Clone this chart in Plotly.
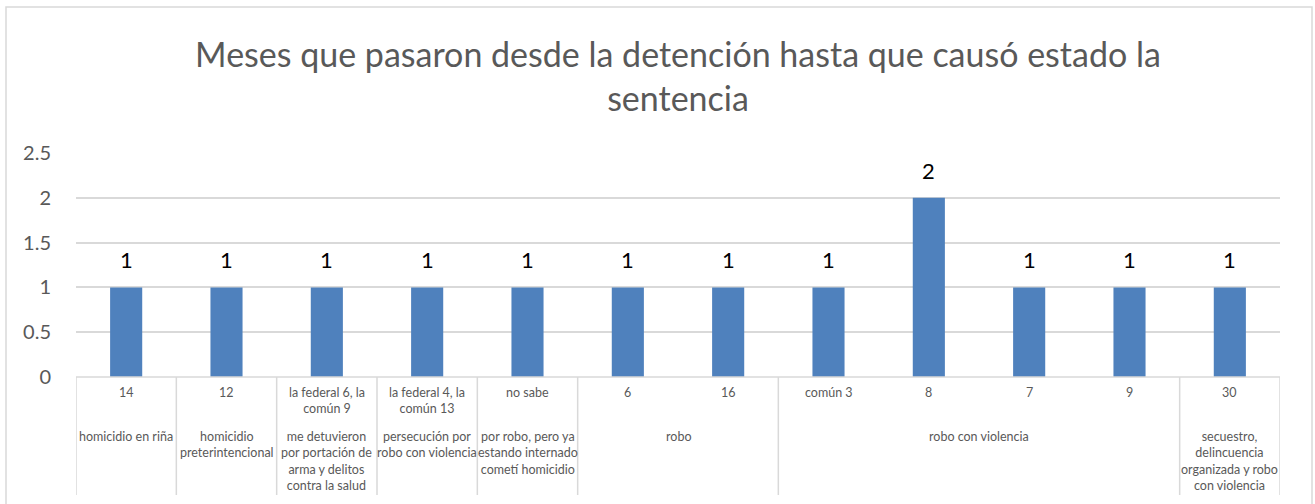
import plotly.graph_objects as go

title_text = "Meses que pasaron desde la detención hasta que causó estado la<br>sentencia"

# inner category labels (months)
months = ["14", "12", "la federal 6, la\ncomún 9", "la federal 4, la\ncomún 13", "no sabe",
          "6", "16", "común 3", "8", "7", "9", "30"]
# outer group labels and the number of categories each group spans
groups = ["homicidio en riña", "homicidio\npreterintencional",
          "me detuvieron\npor portación de\narma y delitos\ncontra la salud",
          "persecución por\nrobo con violencia",
          "por robo, pero ya\nestando internado\ncometí homicidio",
          "robo", "robo con violencia",
          "secuestro,\ndelincuencia\norganizada y robo\ncon violencia"]
group_sizes = [1, 1, 1, 1, 1, 2, 4, 1]
values = [1, 1, 1, 1, 1, 1, 1, 1, 2, 1, 1, 1]
y_ticks = [0, 0.5, 1, 1.5, 2, 2.5]

BAR = "#4F81BD"
GREY = "#595959"
LINE = "#D9D9D9"
FONT = "Lato"

W, H = 1315, 504
L, R, T, B = 76, 35, 153, 127
pw, ph = W - L - R, H - T - B

def py(pix):  # pixel y -> paper y
    return (H - B - pix) / ph

def px(pix):
    return (pix - L) / pw

n = len(values)
x = list(range(n))

fig = go.Figure()
fig.add_trace(go.Bar(x=x, y=values, marker=dict(color=BAR, line=dict(width=0)),
                     hoverinfo="skip", showlegend=False))

ann = []
# data labels
for i, v in enumerate(values):
    ann.append(dict(x=i, y=v, xref="x", yref="y", text=str(v), showarrow=False,
                    yanchor="bottom", yshift=12, font=dict(size=22, color="#000000", family=FONT)))
# inner labels
for i, m in enumerate(months):
    ann.append(dict(x=i, y=py(383), xref="x", yref="paper", text=m.replace("\n", "<br>"),
                    showarrow=False, yanchor="top", align="center",
                    font=dict(size=12.5, color=GREY, family=FONT)))
# outer labels + group boundary lines
shapes = []
start = 0
bounds = [-0.5]
for g, s in zip(groups, group_sizes):
    c = start + (s - 1) / 2
    ann.append(dict(x=c, y=py(427), xref="x", yref="paper", text=g.replace("\n", "<br>"),
                    showarrow=False, yanchor="top", align="center",
                    font=dict(size=12.5, color=GREY, family=FONT)))
    start += s
    bounds.append(start - 0.5)
for b in bounds:
    shapes.append(dict(type="line", xref="x", yref="paper", x0=b, x1=b, y0=0, y1=py(495),
                       line=dict(color=LINE, width=1.5)))
shapes.append(dict(type="line", xref="paper", yref="paper", x0=0, x1=1, y0=0, y1=0,
                   line=dict(color=LINE, width=1.5)))
# outer chart border
shapes.append(dict(type="rect", xref="paper", yref="paper", x0=px(6), x1=px(1312),
                   y0=py(530), y1=py(7), line=dict(color=LINE, width=1.5), layer="below"))

fig.update_layout(
    width=W, height=H,
    margin=dict(l=L, r=R, t=T, b=B, pad=0),
    paper_bgcolor="white", plot_bgcolor="white",
    title=dict(text=title_text, x=0.5, xref="paper", xanchor="center",
               y=1 - 67 / H, yanchor="top",
               font=dict(size=34, color=GREY, family=FONT)),
    bargap=0.68,
    xaxis=dict(range=[-0.5, n - 0.5], showticklabels=False, showgrid=False,
               zeroline=False, showline=False, ticks=""),
    yaxis=dict(range=[0, 2.5], tickvals=y_ticks, ticktext=[f"{t:g}" for t in y_ticks],
               showgrid=True, gridcolor=LINE, gridwidth=1.5, zeroline=False, showline=False,
               ticks="", ticklabelstandoff=24,
               tickfont=dict(size=20, color=GREY, family=FONT)),
    annotations=ann, shapes=shapes,
)

fig.write_html("out.html", config={"displayModeBar": False},
               post_script="document.body.style.margin='0';")
